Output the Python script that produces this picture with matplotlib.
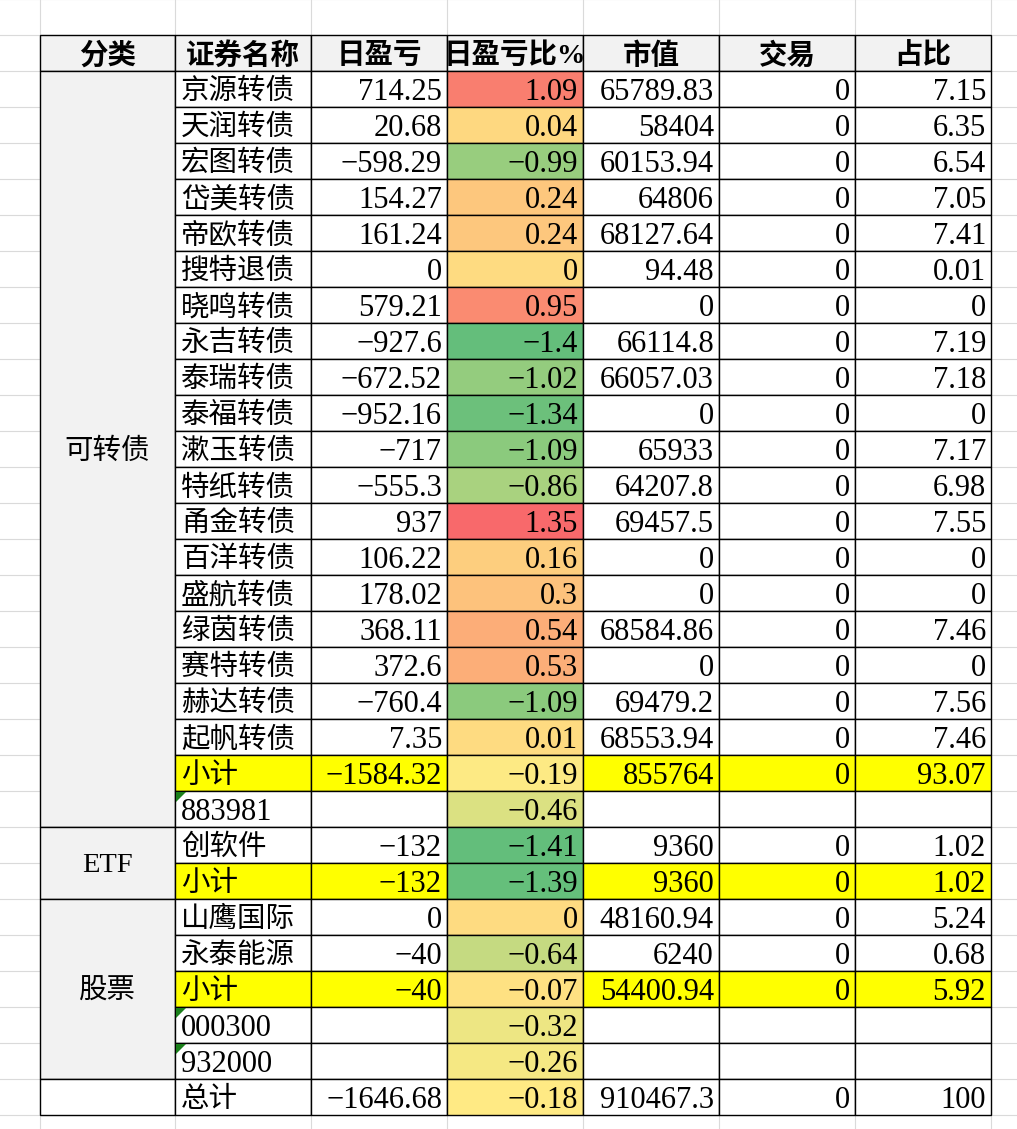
import numpy as np
import matplotlib.pyplot as plt
from matplotlib.patches import Rectangle, Polygon
from matplotlib.colors import LinearSegmentedColormap, TwoSlopeNorm

# 表头
headers = ['分类', '证券名称', '日盈亏', '日盈亏比%', '市值', '交易', '占比']

# 分组 (名称, 行数)
groups = [('可转债', 21), ('ETF', 2), ('股票', 5), ('', 1)]

names = ['京源转债', '天润转债', '宏图转债', '岱美转债', '帝欧转债', '搜特退债', '晓鸣转债',
         '永吉转债', '泰瑞转债', '泰福转债', '漱玉转债', '特纸转债', '甬金转债', '百洋转债',
         '盛航转债', '绿茵转债', '赛特转债', '赫达转债', '起帆转债', '小计', '883981',
         '创软件', '小计',
         '山鹰国际', '永泰能源', '小计', '000300', '932000',
         '总计']
pnl = [714.25, 20.68, -598.29, 154.27, 161.24, 0, 579.21, -927.6, -672.52, -952.16,
       -717, -555.3, 937, 106.22, 178.02, 368.11, 372.6, -760.4, 7.35, -1584.32, None,
       -132, -132,
       0, -40, -40, None, None,
       -1646.68]
pct = [1.09, 0.04, -0.99, 0.24, 0.24, 0, 0.95, -1.4, -1.02, -1.34,
       -1.09, -0.86, 1.35, 0.16, 0.3, 0.54, 0.53, -1.09, 0.01, -0.19, -0.46,
       -1.41, -1.39,
       0, -0.64, -0.07, -0.32, -0.26,
       -0.18]
mv = [65789.83, 58404, 60153.94, 64806, 68127.64, 94.48, 0, 66114.8, 66057.03, 0,
      65933, 64207.8, 69457.5, 0, 0, 68584.86, 0, 69479.2, 68553.94, 855764, None,
      9360, 9360,
      48160.94, 6240, 54400.94, None, None,
      910467.3]
trade = [0, 0, 0, 0, 0, 0, 0, 0, 0, 0,
         0, 0, 0, 0, 0, 0, 0, 0, 0, 0, None,
         0, 0,
         0, 0, 0, None, None,
         0]
share = [7.15, 6.35, 6.54, 7.05, 7.41, 0.01, 0, 7.19, 7.18, 0,
         7.17, 6.98, 7.55, 0, 0, 7.46, 0, 7.56, 7.46, 93.07, None,
         1.02, 1.02,
         5.24, 0.68, 5.92, None, None,
         100]

# 布局 (像素)
W, H = 1017, 1129
left, top, row_h = 40, 35, 36
col_w = [135, 136, 136, 136, 136, 136, 136]
x_edges = left + np.concatenate([[0], np.cumsum(col_w)])

FONT = ['Liberation Serif', 'Noto Sans CJK SC']
FS = 20.5      # 中文
FS_NUM = 22    # 数字
YELLOW = '#FFFF00'
GRAY = '#F2F2F2'
DY = 3         # 文字下移


def fmt(v):
    if v is None:
        return ''
    s = ('%.2f' % v).rstrip('0').rstrip('.')
    return s.replace('-', '\u2212')


# 色阶: 绿-黄-红, 中点取中位数
cmap = LinearSegmentedColormap.from_list('rdylgn', ['#63BE7B', '#FFEB84', '#F8696B'])
norm = TwoSlopeNorm(vmin=min(pct), vcenter=float(np.median(pct)), vmax=max(pct))

fig = plt.figure(figsize=(W / 100, H / 100), dpi=100)
ax = fig.add_axes([0, 0, 1, 1])
ax.set_xlim(0, W)
ax.set_ylim(H, 0)
ax.axis('off')

# 表格外的浅灰网格线
for x in x_edges:
    ax.axvline(x, color='#DADADA', lw=0.8, zorder=0)
for k in range(-1, 32):
    ax.axhline(top + k * row_h, color='#DADADA', lw=0.8, zorder=0)


def cell(x, y, w, h, fc):
    ax.add_patch(Rectangle((x, y), w, h, facecolor=fc, edgecolor='black', lw=1.0, zorder=2))


# 表头
for j, txt in enumerate(headers):
    cell(x_edges[j], top, col_w[j], row_h, GRAY)
    ax.text(x_edges[j] + col_w[j] / 2, top + row_h / 2 + DY, txt, ha='center', va='center',
            fontsize=FS, family=FONT, fontweight='bold', zorder=3)

# 分类列 (合并单元格)
r = 0
for gname, n in groups:
    y0 = top + (r + 1) * row_h
    cell(x_edges[0], y0, col_w[0], n * row_h, GRAY if gname else 'white')
    ax.text(x_edges[0] + col_w[0] / 2, y0 + n * row_h / 2 + DY, gname, ha='center', va='center',
            fontsize=FS, family=FONT, zorder=3)
    r += n

# 数据行
cols = [pnl, pct, mv, trade, share]
for i, name in enumerate(names):
    y0 = top + (i + 1) * row_h
    yc = y0 + row_h / 2 + DY
    sub = name == '小计'
    fc = YELLOW if sub else 'white'
    cell(x_edges[1], y0, col_w[1], row_h, fc)
    ax.text(x_edges[1] + 6, yc, name, ha='left', va='center',
            fontsize=FS_NUM if name.isdigit() else FS, family=FONT, zorder=3)
    if name.isdigit():
        ax.add_patch(Polygon([(x_edges[1] + 1, y0 + 1), (x_edges[1] + 11, y0 + 1),
                              (x_edges[1] + 1, y0 + 11)], closed=True,
                             facecolor='#1A7F1A', edgecolor='none', zorder=3))
    for k, series in enumerate(cols):
        j = k + 2
        v = series[i]
        c = cmap(norm(v)) if series is pct else fc
        cell(x_edges[j], y0, col_w[j], row_h, c)
        ax.text(x_edges[j + 1] - 5, yc, fmt(v), ha='right', va='center',
                fontsize=FS_NUM, family=FONT, zorder=3)

fig.savefig('out.png', dpi=100)
